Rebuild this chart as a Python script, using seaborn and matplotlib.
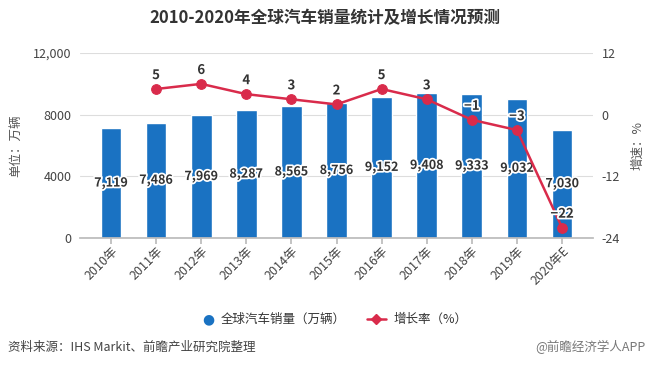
import matplotlib
matplotlib.use('Agg')
import matplotlib.pyplot as plt
import matplotlib.patheffects as pe
import pandas as pd
import seaborn as sns

# 数据
years = ['2010年', '2011年', '2012年', '2013年', '2014年', '2015年',
         '2016年', '2017年', '2018年', '2019年', '2020年E']
sales = [7119, 7486, 7969, 8287, 8565, 8756, 9152, 9408, 9333, 9032, 7030]
growth_years = years[1:]
growth = [5, 6, 4, 3, 2, 5, 3, -1, -3, -22]

sns.set_theme(style='white')
plt.rcParams['font.family'] = ['Noto Sans CJK SC', 'DejaVu Sans']
plt.rcParams['axes.unicode_minus'] = False

bar_color = '#1a72c2'
line_color = '#d92b4b'

df_bar = pd.DataFrame({'年份': years, '销量': sales})
df_line = pd.DataFrame({'x': [years.index(y) for y in growth_years], '增长率': growth})

fig = plt.figure(figsize=(6.49, 3.66), dpi=100)
ax = fig.add_axes([0.123, 0.350, 0.791, 0.505])

sns.barplot(data=df_bar, x='年份', y='销量', color=bar_color, width=0.46,
            saturation=1, ax=ax, zorder=2)
ax.set_ylim(0, 12000)
ax.set_xlim(-0.69, 10.69)
ax.set_yticks([0, 4000, 8000, 12000])
ax.set_yticklabels(['0', '4000', '8000', '12,000'], color='#444444', fontsize=9)
ax.yaxis.grid(True, color='#dddddd', linewidth=0.8)
ax.set_axisbelow(True)
for s in ['top', 'right', 'left']:
    ax.spines[s].set_visible(False)
ax.spines['bottom'].set_color('#bbbbbb')
ax.tick_params(axis='x', length=4, color='#bbbbbb', bottom=True, pad=1)
ax.tick_params(axis='y', length=0, pad=6)
plt.setp(ax.get_xticklabels(), rotation=45, ha='right', rotation_mode='anchor',
         fontsize=9, color='#444444')
ax.set_xlabel('')
ax.set_ylabel('单位：万辆', fontsize=9, color='#555555', labelpad=8)

outline = [pe.withStroke(linewidth=2.5, foreground='white')]
for i, v in enumerate(sales):
    ax.text(i, v / 2, f'{v:,}', ha='center', va='center', fontsize=9,
            fontweight='bold', color='#333333', path_effects=outline, zorder=5)

ax2 = ax.twinx()
sns.lineplot(data=df_line, x='x', y='增长率', color=line_color, linewidth=1.8,
             marker='o', markersize=7, markeredgecolor=line_color, ax=ax2, zorder=4)
ax2.set_ylim(-24, 12)
ax2.set_yticks([12, 0, -12, -24])
ax2.set_yticklabels(['12', '0', '-12', '-24'], color='#444444', fontsize=9)
ax2.tick_params(axis='y', length=0, pad=6)
for s in ['top', 'right', 'left', 'bottom']:
    ax2.spines[s].set_visible(False)
ax2.set_ylabel('增速：%', fontsize=9, color='#555555', rotation=90, labelpad=8)
ax2.grid(False)
for xi, g in zip(df_line['x'], growth):
    ax2.annotate(f'{g}' if g >= 0 else f'\u2212{-g}', (xi, g), xytext=(0, 5),
                 textcoords='offset points', ha='center', va='bottom',
                 fontsize=9.5, fontweight='bold', color='#333333',
                 path_effects=outline, zorder=6)

fig.text(0.5, 0.951, '2010-2020年全球汽车销量统计及增长情况预测', ha='center', va='center',
         fontsize=12, fontweight='bold', color='#333333')

# 图例
fig.text(0.311, 0.128, '●', color=bar_color, fontsize=10, ha='left', va='center',
         family=['DejaVu Sans'])
fig.text(0.340, 0.128, '全球汽车销量（万辆）', color='#333333', fontsize=9, ha='left', va='center')
fig.lines.append(plt.Line2D([0.565, 0.595], [0.128, 0.128], transform=fig.transFigure,
                            color=line_color, linewidth=1.8))
fig.lines.append(plt.Line2D([0.580], [0.128], transform=fig.transFigure, color=line_color,
                            marker='D', markersize=5, linewidth=0))
fig.text(0.607, 0.128, '增长率（%）', color='#333333', fontsize=9, ha='left', va='center')

fig.text(0.012, 0.052, '资料来源：IHS Markit、前瞻产业研究院整理', color='#444444',
         fontsize=9, ha='left', va='center')
fig.text(0.995, 0.052, '@前瞻经济学人APP', color='#777777', fontsize=9,
         ha='right', va='center')

fig.savefig('out.png', dpi=100)
